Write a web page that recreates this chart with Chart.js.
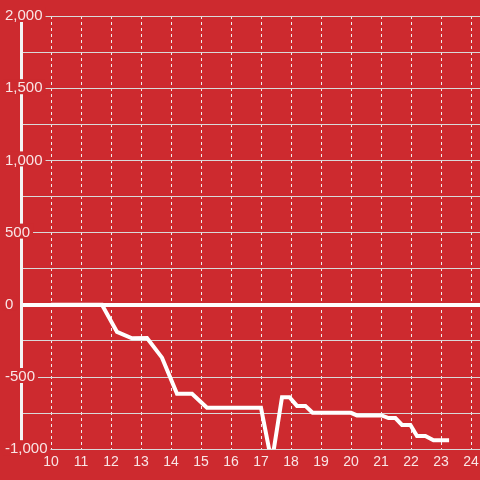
<!DOCTYPE html>
<html>
<head>
<meta charset="utf-8">
<script src="https://cdn.jsdelivr.net/npm/chart.js@4/dist/chart.umd.min.js"></script>
<style>
    html, body { margin: 0; padding: 0; background: #cd2a2f; }
    #wrap { width: 480px; height: 480px; }
</style>
</head>
<body>
<div id="wrap"><canvas id="chart"></canvas></div>
<script>
// Balance over the day, hours on x
const hours = [10, 11.7, 12.2, 12.7, 13.2, 13.7, 14.2, 14.7, 15.2, 17.0, 17.28, 17.42,
    17.7, 17.95, 18.2, 18.48, 18.72, 20.0, 20.2, 21.02, 21.25, 21.48, 21.7, 21.98,
    22.2, 22.48, 22.75, 23.27];
const balance = [0, 0, -188, -232, -230, -366, -616, -616, -713, -713, -1010, -1010,
    -640, -640, -700, -700, -748, -748, -766, -766, -784, -784, -832, -832,
    -908, -908, -938, -938];

// Axis ranges and tick steps
const xRange = [9, 24.3];
const xFirstLabel = 10;
const yRange = [-1000, 2000];
const yGridStep = 250;
const yLabelStep = 500;

const RED = '#cd2a2f';
const GRID = '#d9d9d9';
const TEXT = 'rgba(255, 255, 255, 0.88)';

/**
 * Y labels only every 500, with thousands separator
 */
function formatBalance(value) {
    'use strict';
    return value % yLabelStep === 0 ? value.toLocaleString('en-US') : '';
}

function isLabelled(ctx) {
    'use strict';
    return ctx.tick !== undefined && ctx.tick.value % yLabelStep === 0;
}

Chart.defaults.font.family = '"Liberation Sans", Arial, sans-serif';
Chart.defaults.font.size = 14;
Chart.defaults.color = TEXT;

const points = hours.map((h, i) => ({x: h, y: balance[i]}));

new Chart(document.getElementById('chart'), {
    type: 'line',
    data: {
        datasets: [{
            data: points,
            borderColor: '#ffffff',
            borderWidth: 4,
            pointRadius: 0,
            hoverRadius: 0,
            tension: 0,
            fill: false,
        }],
    },
    options: {
        responsive: true,
        maintainAspectRatio: false,
        animation: false,
        layout: {
            padding: {left: 4, top: 16, right: 0, bottom: 4},
        },
        plugins: {
            legend: {display: false},
            tooltip: {enabled: false},
        },
        scales: {
            x: {
                type: 'linear',
                min: xRange[0],
                max: xRange[1],
                grid: {
                    color: '#eeeeee',
                    lineWidth: 1,
                    drawTicks: false,
                },
                border: {
                    color: GRID,
                    width: 1,
                    dash: [3, 3],
                },
                ticks: {
                    stepSize: 1,
                    includeBounds: false,
                    autoSkip: false,
                    maxRotation: 0,
                    padding: 5,
                    callback: (v) => (Number.isInteger(v) && v >= xFirstLabel ? v : null),
                },
                afterFit: (axis) => {
                    axis.paddingLeft = 0;
                    axis.paddingRight = 0;
                },
            },
            y: {
                min: yRange[0],
                max: yRange[1],
                grid: {
                    color: (ctx) => (ctx.tick && ctx.tick.value === 0 ? '#ffffff' : GRID),
                    lineWidth: (ctx) => (ctx.tick && ctx.tick.value === 0 ? 4 : 1),
                    drawTicks: false,
                },
                border: {
                    color: '#f4f4f4',
                    width: 3,
                },
                ticks: {
                    stepSize: yGridStep,
                    mirror: true,
                    crossAlign: 'near',
                    padding: -16,
                    font: {size: 15},
                    callback: formatBalance,
                    showLabelBackdrop: isLabelled,
                    backdropColor: RED,
                    backdropPadding: {left: 2, right: 3, top: 0, bottom: -3},
                },
                afterFit: (axis) => {
                    axis.width = 17;
                    axis.paddingTop = 0;
                    axis.paddingBottom = 0;
                },
            },
        },
    },
});
</script>
</body>
</html>
